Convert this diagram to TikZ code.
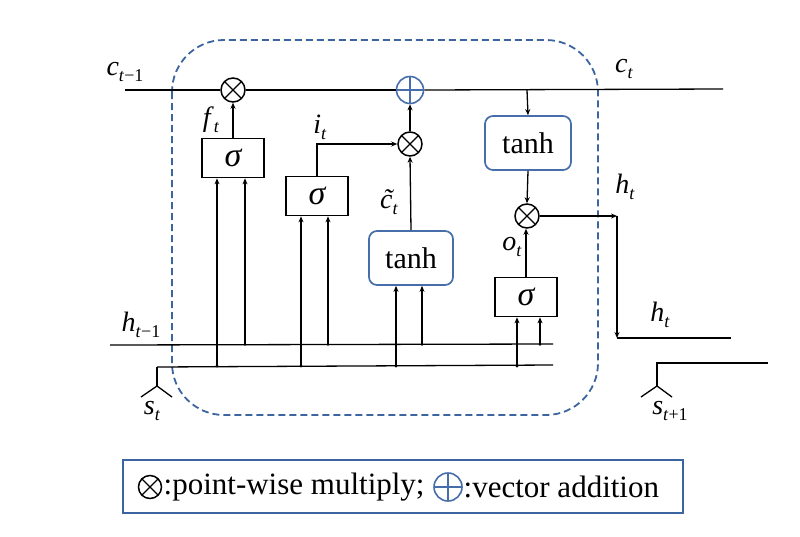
\documentclass[tikz,border=0pt]{standalone}
\usepackage{fontspec}
\setmainfont{Liberation Serif}
\usetikzlibrary{arrows.meta}
\definecolor{dblue}{RGB}{60,100,160}
\definecolor{tblue}{RGB}{70,110,170}
\newcommand{\vsub}[2]{\textit{#1}\raisebox{-0.45ex}{\fontsize{18}{20}\selectfont #2}}
\newcommand{\tildc}{\ooalign{\textit{c}\cr\hidewidth\kern0.1em\raisebox{0.02em}{\textit{\char"02DC}}\hidewidth\cr}}
\begin{document}
\begin{tikzpicture}[x=1pt,y=-1pt,line width=1.3pt,
  >={Stealth[length=6pt,width=5pt]},
  big/.style={font=\fontsize{31}{34}\selectfont},
  lbl/.style={font=\fontsize{28}{32}\selectfont, inner sep=0},
  gate/.style={draw,line width=1.7pt,minimum width=62pt,minimum height=39pt,inner sep=0,fill=white,font=\fontsize{34}{36}\selectfont\itshape},
  tbox/.style={draw=tblue,line width=1.7pt,rounded corners=8pt,minimum width=84pt,minimum height=54pt,inner sep=0,fill=white,font=\fontsize{30}{34}\selectfont},
  mul/.style={circle,draw,line width=1.5pt,minimum size=24pt,inner sep=0,fill=white,
    path picture={\draw[line width=1.3pt] (path picture bounding box.north west) -- (path picture bounding box.south east)
      (path picture bounding box.north east) -- (path picture bounding box.south west);}},
  addc/.style={circle,draw=tblue,line width=1.6pt,minimum size=27pt,inner sep=0,fill=white,
    path picture={\draw[tblue,line width=1.4pt] (path picture bounding box.north) -- (path picture bounding box.south)
      (path picture bounding box.west) -- (path picture bounding box.east);}},
  cellbox/.style={draw=dblue,line width=1.8pt,dash pattern=on 7pt off 4pt,rounded corners=52pt}]
\useasboundingbox (0,0) rectangle (800,536);

% cell outline
\draw[cellbox] (172,40) rectangle (598,415);

% cell state line
\coordinate (cL) at (125,90);
\coordinate (cR) at (723,89);
\coordinate (ctap) at (527,90);
\node[mul] (fmul) at (233,90) {};
\node[addc] (add) at (410,90) {};
\draw (cL) -- (fmul.west);
\draw (fmul.east) -- (add.west);
\draw (add.east) -- (cR);
\node[lbl] (lcp) at (125,72) {\vsub{c}{\textit{t}−1}};
\node[lbl] (lc) at (624,69) {\vsub{c}{\textit{t}}};

% forget gate
\node[gate] (fsig) at (233,158) {σ};
\draw[->] (fsig.north) -- (fmul.south);
\node[lbl] (lf) at (211,120) {\vsub{f}{\textit{t}}};

% input gate
\node[gate] (isig) at (317,196) {σ};
\node[mul] (imul) at (410,144) {};
\draw[->] (isig.north) |- (imul.west);
\node[lbl] (li) at (320,127) {\vsub{i}{\textit{t}}};

% candidate
\node[tbox] (ctanh) at (411,258) {tanh};
\draw[->] (ctanh.north) -- (imul.south);
\draw[->] (imul.north) -- (add.south);
\node[lbl] (lct) at (389,205) {\vsub{\tildc}{\textit{t}}};

% output
\node[tbox,minimum width=86pt] (otanh) at (528,143) {tanh};
\draw[->] (ctap) -- (otanh.north);
\node[mul] (omul) at (527,216) {};
\draw[->] (otanh.south) -- (omul.north);
\node[gate] (osig) at (526,297) {σ};
\draw[->] (osig.north) -- (osig.north |- omul.south);
\node[lbl] (lo) at (512,247) {\vsub{o}{\textit{t}}};

% h output
\coordinate (hc1) at (617,216);
\coordinate (hc2) at (617,338);
\coordinate (hR) at (731,338);
\draw[->] (omul.east) -- (hc1);
\draw[->] (hc1) -- (hc2);
\draw (hc2) -- (hR);
\node[lbl] (lh1) at (625,187) {\vsub{h}{\textit{t}}};
\node[lbl] (lh2) at (660,315) {\vsub{h}{\textit{t}}};

% h_{t-1} and s lines
\coordinate (hL) at (110,345);
\coordinate (hE) at (553,344);
\coordinate (sL) at (157,367);
\coordinate (sE) at (553,365);
\draw (hL) -- (hE);
\draw (sL) -- (sE);
\node[lbl] (lhp) at (141,325) {\vsub{h}{\textit{t}−1}};
\coordinate (sF) at (157,386);
\draw (sL) -- (sF);
\draw (141,397) -- (sF) -- (172,397);
\node[lbl] (ls) at (152,411) {\vsub{s}{\textit{t}}};

% s_{t+1}
\coordinate (s2R) at (768,363);
\coordinate (s2C) at (657,363);
\coordinate (s2F) at (657,386);
\draw (s2R) -- (s2C) -- (s2F);
\draw (641,397) -- (s2F) -- (672,397);
\node[lbl] (ls2) at (670,411) {\vsub{s}{\textit{t}+1}};

% gate inputs
\foreach \xs/\xh/\g in {217/245/fsig, 301/328/isig, 396/422/ctanh, 517/540/osig}{
  \draw[->] (\xs,366) -- (\xs,0 |- \g.south);
  \draw[->] (\xh,344.5) -- (\xh,0 |- \g.south);
  \fill (\xs,366) circle (1.6pt);
  \fill (\xh,344.5) circle (1.4pt);
}

% legend
\node[draw=dblue,line width=1.6pt,minimum width=560pt,minimum height=53pt,inner sep=0] (leg) at (403,486.5) {};
\node[mul,minimum size=23pt] (lmul) at (150,487) {};
\node[big,anchor=west,inner sep=0] (lt1) at (163,487) {:point-wise multiply;};
\node[addc,minimum size=28pt] (ladd) at (448,487) {};
\node[big,anchor=west,inner sep=0] (lt2) at (463,487) {:vector addition};
\end{tikzpicture}
\end{document}
